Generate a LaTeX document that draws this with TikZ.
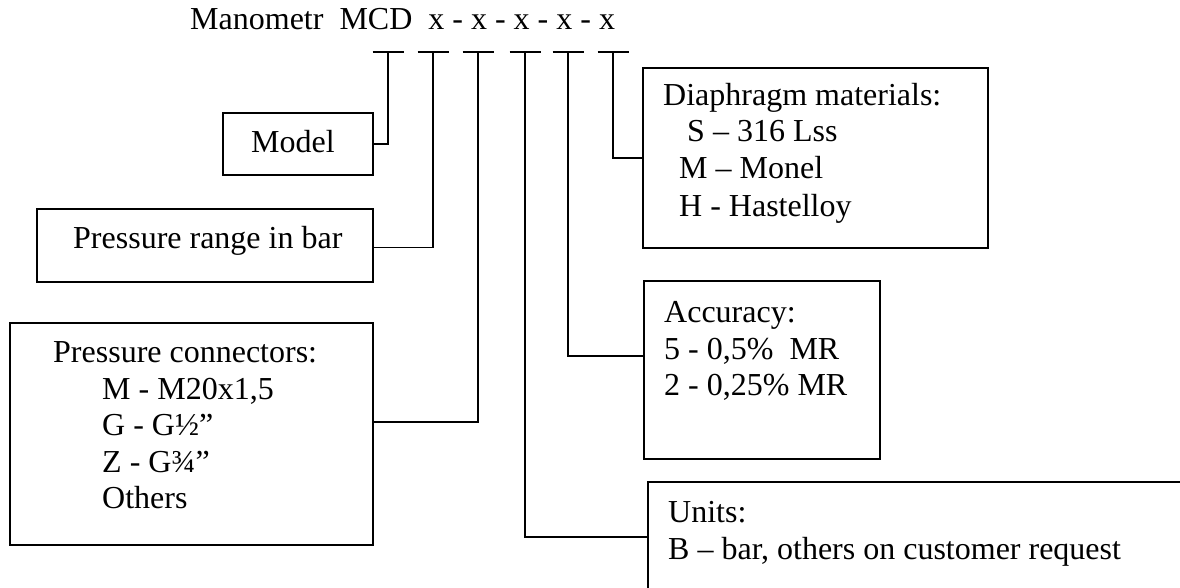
\documentclass[tikz,border=0pt]{standalone}
\usepackage{fontspec}
\setmainfont{Liberation Serif}
\begin{document}
\begin{tikzpicture}[x=1pt,y=-1pt,
  box/.style={draw, line width=1.6pt, rectangle, inner sep=0pt, anchor=north west},
  txt/.style={anchor=base west, inner sep=0pt, font=\fontsize{32}{37}\selectfont},
  ttl/.style={anchor=base west, inner sep=0pt, font=\fontsize{32}{37}\selectfont},
  wire/.style={line width=1.6pt}]
\useasboundingbox (0,0) rectangle (1180,588);

% title
\node[ttl] (title) at (190,30) {Manometr\ \ MCD\ \ x - x - x - x - x};

% T-bar coordinates
\coordinate (t1) at (388,52);
\coordinate (t2) at (433,52);
\coordinate (t3) at (478,52);
\coordinate (t4) at (525,52);
\coordinate (t5) at (568,52);
\coordinate (t6) at (613,52);
\foreach \t in {t1,t2,t3,t4,t5,t6}
  \draw[wire] ([xshift=-15.5pt]\t) -- ([xshift=15.5pt]\t);

% boxes
\node[box, minimum width=150pt, minimum height=62pt] (model) at (222,112) {};
\node[box, minimum width=336pt, minimum height=73pt] (range) at (36,208) {};
\node[box, minimum width=363pt, minimum height=222pt] (conn) at (9,322) {};
\node[box, minimum width=345pt, minimum height=180pt] (diaph) at (642,67) {};
\node[box, minimum width=236pt, minimum height=178pt] (acc) at (643,280) {};
\node[box, minimum width=600pt, minimum height=110pt] (units) at (647,481) {};

% texts
\node[txt] (tmodel) at (251,153) {Model};
\node[txt] (trange) at (73,248) {Pressure range in bar};
\node[txt] (tconn0) at (53,362) {Pressure connectors:};
\node[txt] (tconn1) at (102,399) {M - M20x1,5};
\node[txt] (tconn2) at (102,435) {G - G½”};
\node[txt] (tconn3) at (102,472) {Z - G¾”};
\node[txt] (tconn4) at (102,508) {Others};
\node[txt] (tdia0) at (663,106) {Diaphragm materials:};
\node[txt] (tdia1) at (687,142) {S – 316 Lss};
\node[txt] (tdia2) at (679,179) {M – Monel};
\node[txt] (tdia3) at (679,217) {H - Hastelloy};
\node[txt] (tacc0) at (664,322) {Accuracy:};
\node[txt] (tacc1) at (664,359) {5 - 0,5\%\ \ MR};
\node[txt] (tacc2) at (664,395) {2 - 0,25\% MR};
\node[txt] (tun0) at (668,522) {Units:};
\node[txt] (tun1) at (668,559) {B – bar, others on customer request};

% connectors
\draw[wire] (model.east) -| (t1);
\draw[wire] ([yshift=-2pt]range.east) -| (t2);
\draw[wire] ([yshift=12pt]conn.east) -| (t3);
\draw[wire] (t4) |- (units.west);
\draw[wire] (t5) |- ([yshift=14pt]acc.west);
\draw[wire] (t6) |- (diaph.west);
\end{tikzpicture}
\end{document}
